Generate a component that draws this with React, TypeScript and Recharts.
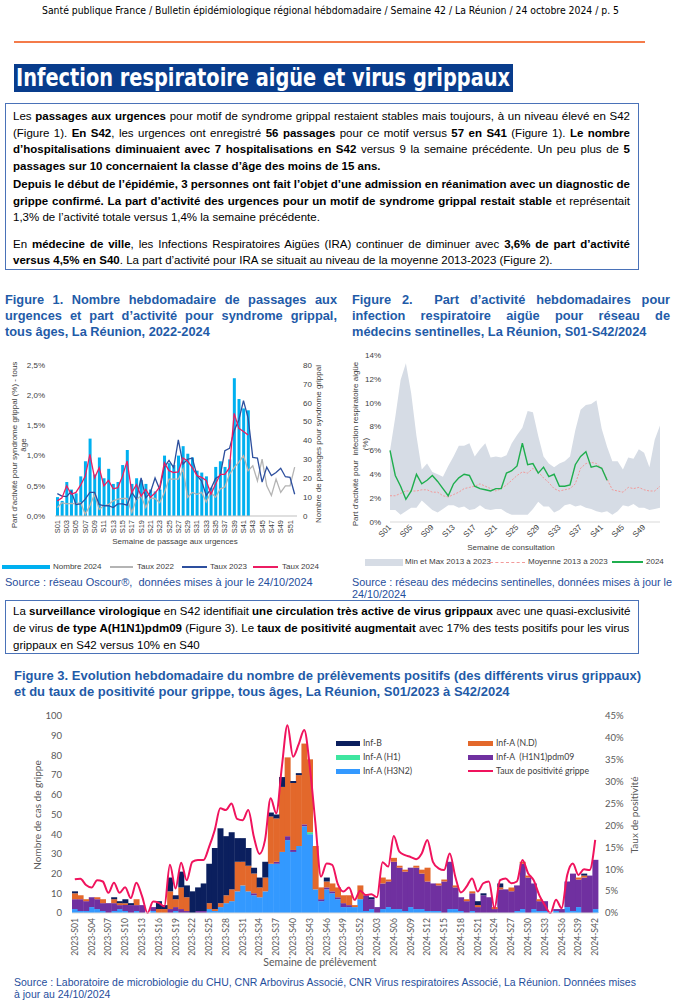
import React from 'react';
import { ComposedChart, Bar, Line, Area, XAxis, YAxis } from 'recharts';

const ARIAL = '"Liberation Sans", Arial, Helvetica, sans-serif';
const NARROW = '"Liberation Sans Narrow", "Arial Narrow", "DejaVu Sans Condensed", "Liberation Sans", sans-serif';
const CALIBRI = 'Lato, "Open Sans", "Noto Sans", sans-serif';
const BLUE_TITLE = '#1f5ba8';
const BLUE_SRC = '#1f4e9c';

// ---- Figure 1 : passages aux urgences (Oscour) ----
const semaines = [
  'S01', 'S02', 'S03', 'S04', 'S05', 'S06', 'S07', 'S08', 'S09', 'S10',
  'S11', 'S12', 'S13', 'S14', 'S15', 'S16', 'S17', 'S18', 'S19', 'S20',
  'S21', 'S22', 'S23', 'S24', 'S25', 'S26', 'S27', 'S28', 'S29', 'S30',
  'S31', 'S32', 'S33', 'S34', 'S35', 'S36', 'S37', 'S38', 'S39', 'S40',
  'S41', 'S42', 'S43', 'S44', 'S45', 'S46', 'S47', 'S48', 'S49', 'S50',
  'S51', 'S52',
];
const nombre2024 = [
  10, 8, 18, 14, 12, 21, 29, 41, 22, 31,
  20, 25, 17, 18, 27, 35, 17, 20, 19, 17,
  14, 13, 14, 32, 28, 27, 32, 37, 33, 31,
  24, 23, 21, 15, 26, 29, 26, 30, 73, 62,
  57, 56,
];
const taux2022 = [
  0.14, 0.22, 0.2, 0.21, 0.2, 0.22, 0.03, 0.17, 0.36, 0.11,
  0.17, 0.19, 0.25, 0.28, 0.29, 0.29, 0.06, 0.28, 0.33, 0.14,
  0.3, 0.29, 0.22, 0.39, 0.61, 0.61, 0.61, 0.78, 0.31, 0.39,
  0.36, 0.39, 0.23, 0.39, 0.31, 0.45, 0.48, 0.69, 0.8, 0.89,
  1.0, 0.75, 0.83, 0.58, 0.94, 0.5, 0.34, 0.61, 0.39, 0.5,
  0.5, 0.81,
];
const taux2023 = [
  0.37, 0.33, 0.32, 0.41, 0.19, 0.2, 0.28, 0.39, 0.39, 0.19,
  0.17, 0.17, 0.14, 0.2, 0.2, 0.18, 0.39, 0.28, 0.63, 0.3,
  0.39, 0.63, 0.44, 0.81, 0.92, 0.8, 1.26, 0.86, 0.94, 0.96,
  0.67, 0.58, 0.34, 0.45, 0.62, 0.67, 1.08, 1.12, 1.41, 1.59,
  1.91, 1.62, 0.97, 0.96, 0.56, 0.81, 0.67, 0.72, 0.79, 0.65,
  0.64, 0.36,
];
const taux2024 = [
  0.25, 0.3, 0.5, 0.36, 0.39, 0.51, 0.66, 1.02, 0.63, 0.8,
  0.5, 0.59, 0.45, 0.47, 0.66, 0.91, 0.39, 0.52, 0.33, 0.44,
  0.31, 0.38, 0.48, 0.88, 0.75, 0.72, 0.73, 0.96, 0.91, 0.8,
  0.67, 0.64, 0.59, 0.36, 0.53, 0.69, 0.69, 0.8, 1.7, 1.45,
  1.4, 1.34,
];
const ticksPart = [0, 0.5, 1, 1.5, 2, 2.5];
const ticksNombre = [0, 10, 20, 30, 40, 50, 60, 70, 80];

// ---- Figure 2 : IRA, médecins sentinelles ----
const iraMax = [
  6.0, 8.8, 11.9, 13.3, 10.8, 7.2, 4.4, 4.9, 4.2, 4.0,
  3.8, 4.7, 5.5, 6.4, 6.4, 6.6, 5.5, 6.1, 6.6, 5.4,
  5.5, 5.4, 5.6, 6.6, 7.3, 7.9, 9.3, 9.2, 7.2, 5.5,
  4.9, 4.6, 4.9, 5.1, 5.5, 7.7, 9.4, 9.8, 9.9, 10.2,
  7.8, 6.3, 5.1, 5.1, 4.4, 5.4, 5.3, 6.1, 5.8, 4.6,
  6.9, 8.1,
];
const iraMin = [
  1.0, 1.0, 0.6, 0.9, 1.2, 1.2, 1.8, 1.4, 1.0, 0.8,
  1.1, 1.4, 1.4, 1.2, 1.3, 1.0, 1.1, 1.4, 1.1, 1.0,
  1.1, 1.1, 0.8, 0.6, 0.6, 0.6, 0.6, 1.1, 1.7, 1.3,
  1.3, 0.8, 1.0, 1.4, 1.5, 1.3, 1.4, 1.2, 1.1, 0.9,
  0.8, 0.9, 0.6, 0.9, 1.4, 1.3, 1.5, 1.2, 1.2, 1.0,
  1.1, 1.2,
];
const iraMoyenne = [
  2.2, 2.2, 2.4, 2.6, 2.6, 2.6, 2.7, 2.7, 2.5, 2.5,
  2.2, 2.1, 2.3, 2.5, 2.8, 2.9, 3.0, 3.2, 3.0, 2.8,
  2.6, 2.8, 3.1, 3.5, 3.9, 4.2, 4.1, 4.5, 4.2, 3.7,
  3.3, 2.8, 2.6, 2.7, 2.8, 3.2, 4.5, 4.9, 5.0, 4.9,
  4.5, 3.6, 2.7, 2.6, 2.5, 2.9, 2.8, 2.9, 2.7, 2.6,
  2.6, 3.0,
];
const ira2024 = [
  6.0, 3.9, 3.0, 1.9, 2.6, 4.0, 3.2, 3.5, 3.9, 3.4,
  2.8, 2.2, 3.2, 3.7, 4.0, 3.9, 3.0, 2.8, 2.7, 2.6,
  2.8, 2.8, 4.1, 4.3, 4.7, 6.6, 4.8, 4.9, 4.1, 4.6,
  3.8, 4.0, 3.0, 3.0, 3.1, 4.8, 5.5, 5.9, 4.6, 4.7,
  4.5, 3.5,
];
const ticksIra = [0, 2, 4, 6, 8, 10, 12, 14];

// ---- Figure 3 : prélèvements positifs grippe ----
const semainesPrel = [
  '2023-S01', '2023-S02', '2023-S03', '2023-S04', '2023-S05', '2023-S06', '2023-S07', '2023-S08', '2023-S09', '2023-S10',
  '2023-S11', '2023-S12', '2023-S13', '2023-S14', '2023-S15', '2023-S16', '2023-S17', '2023-S18', '2023-S19', '2023-S20',
  '2023-S21', '2023-S22', '2023-S23', '2023-S24', '2023-S25', '2023-S26', '2023-S27', '2023-S28', '2023-S29', '2023-S30',
  '2023-S31', '2023-S32', '2023-S33', '2023-S34', '2023-S35', '2023-S36', '2023-S37', '2023-S38', '2023-S39', '2023-S40',
  '2023-S41', '2023-S42', '2023-S43', '2023-S44', '2023-S45', '2023-S46', '2023-S47', '2023-S48', '2023-S49', '2023-S50',
  '2023-S51', '2023-S52',
  '2024-S01', '2024-S02', '2024-S03', '2024-S04', '2024-S05', '2024-S06', '2024-S07', '2024-S08', '2024-S09', '2024-S10',
  '2024-S11', '2024-S12', '2024-S13', '2024-S14', '2024-S15', '2024-S16', '2024-S17', '2024-S18', '2024-S19', '2024-S20',
  '2024-S21', '2024-S22', '2024-S23', '2024-S24', '2024-S25', '2024-S26', '2024-S27', '2024-S28', '2024-S29', '2024-S30',
  '2024-S31', '2024-S32', '2024-S33', '2024-S34', '2024-S35', '2024-S36', '2024-S37', '2024-S38', '2024-S39', '2024-S40',
  '2024-S41', '2024-S42',
];
const infH3N2 = [
  2, 1, 1, 3, 2, 1, 0, 1, 2, 1, 0, 1, 0, 0, 1, 0, 0, 0, 1, 0,
  0, 0, 0, 0, 2, 1, 3, 5, 6, 11, 14, 11, 9, 8, 11, 25, 25, 31, 37, 31,
  34, 44, 40, 12, 6, 12, 10, 7, 3, 3, 3, 7,
  1, 2, 0, 2, 3, 2, 2, 1, 3, 2, 2, 1, 1, 1, 0, 2, 2, 1, 0, 1,
  0, 0, 0, 0, 0, 0, 0, 1, 2, 0, 2, 1, 1, 0, 1, 0, 3, 1, 3, 0,
  0, 2,
];
const infH1 = [
  0, 0, 0, 0, 0, 0, 0, 0, 0, 0, 0, 0, 0, 0, 0, 0, 0, 0, 0, 0,
  0, 0, 0, 0, 0, 0, 0, 0, 0, 0, 0, 0, 0, 0, 0, 0, 0, 0, 0, 0,
  0, 0, 1, 0, 0, 0, 0, 0, 0, 0, 0, 0,
  0, 0, 0, 0, 0, 0, 0, 0, 0, 0, 0, 0, 0, 0, 0, 0, 0, 0, 0, 0,
  0, 0, 0, 0, 0, 0, 0, 0, 0, 0, 0, 0, 0, 0, 0, 0, 0, 0, 0, 0,
  0, 0,
];
const infH1N1 = [
  5, 6, 5, 5, 5, 4, 5, 4, 2, 3, 4, 3, 4, 0, 2, 0, 0, 2, 2, 2,
  1, 0, 1, 1, 0, 0, 0, 0, 0, 0, 0, 0, 1, 0, 0, 0, 1, 0, 2, 1,
  0, 1, 0, 0, 1, 1, 1, 1, 2, 1, 0, 0,
  8, 5, 3, 13, 13, 24, 21, 20, 20, 21, 18, 15, 14, 13, 16, 24, 11, 7, 6, 9,
  3, 9, 8, 2, 12, 12, 11, 13, 23, 18, 13, 5, 5, 0, 1, 2, 13, 19, 14, 18,
  19, 25,
];
const infND = [
  3, 2, 1, 0, 1, 2, 0, 2, 1, 1, 0, 3, 0, 0, 0, 2, 2, 9, 4, 11,
  7, 0, 0, 0, 3, 1, 2, 4, 6, 15, 12, 13, 10, 5, 7, 24, 22, 33, 40, 34,
  36, 41, 37, 22, 6, 3, 4, 5, 4, 5, 1, 7,
  0, 0, 0, 3, 1, 2, 1, 1, 0, 1, 2, 7, 0, 1, 1, 0, 1, 0, 1, 1,
  1, 0, 0, 1, 1, 0, 2, 0, 1, 1, 0, 1, 0, 0, 0, 0, 0, 0, 1, 1,
  0, 0,
];
const infB = [
  1, 0, 0, 0, 0, 0, 0, 1, 1, 2, 1, 0, 0, 0, 0, 4, 2, 7, 2, 8,
  6, 11, 12, 14, 20, 31, 38, 30, 29, 12, 12, 9, 3, 5, 8, 2, 2, 5, 0, 1,
  1, 0, 0, 0, 0, 2, 0, 0, 0, 0, 0, 0,
  0, 1, 0, 0, 0, 0, 0, 0, 0, 0, 0, 0, 0, 0, 0, 0, 0, 0, 0, 0,
  2, 1, 0, 0, 2, 0, 0, 0, 0, 0, 0, 0, 0, 0, 0, 0, 0, 0, 0, 1,
  0, 0,
];
const tauxPositivite = [
  7.7, 7.8, 6.4, 5.8, 7.5, 7.2, 4.6, 6.9, 4.6, 5.9, 3.4, 6.9, 3.9, 0, 2.6, 2.3, 1.5, 11.0, 5.6, 11.5,
  7.5, 11.7, 12.1, 12.1, 15.1, 18.9, 23.9, 23.5, 25.0, 21.5, 21.2, 23.5, 17.4, 13.5, 16.7, 26.2, 22.8, 33.4, 42.9, 35.7,
  38.5, 41.8, 33.4, 20.5, 8.3, 11.3, 11.0, 6.6, 4.9, 5.8, 3.0, 5.1,
  4.1, 4.3, 3.6, 11.6, 10.6, 17.6, 14.0, 13.2, 12.8, 12.3, 13.6, 16.7, 11.7, 10.2, 9.8, 13.6, 8.3, 4.7, 6.0, 7.9,
  4.9, 6.8, 7.2, 1.1, 7.5, 7.9, 6.8, 7.2, 12.1, 9.1, 7.5, 4.1, 1.8, 0, 3.0, 1.1, 8.7, 11.3, 8.7, 10.0,
  9.8, 16.7,
];
const ticksCas = [0, 10, 20, 30, 40, 50, 60, 70, 80, 90, 100];
const ticksTaux = [0, 5, 10, 15, 20, 25, 30, 35, 40, 45];

const fig1Data = semaines.map((s, i) => ({
  s,
  nombre: nombre2024[i] ?? null,
  t22: taux2022[i],
  t23: taux2023[i],
  t24: taux2024[i] ?? null,
}));

const fig2Data = semaines.map((s, i) => ({
  s,
  range: [iraMin[i], iraMax[i]],
  moy: iraMoyenne[i],
  v24: ira2024[i] ?? null,
}));

const fig3Data = semainesPrel.map((s, i) => ({
  s,
  h3n2: infH3N2[i],
  h1: infH1[i],
  h1n1: infH1N1[i],
  nd: infND[i],
  b: infB[i],
  taux: tauxPositivite[i],
}));

const vTick = (size: number, color: string, family: string) => (p: any) => (
  <text
    x={p.x}
    y={p.y}
    transform={`rotate(-90 ${p.x} ${p.y})`}
    textAnchor="end"
    dominantBaseline="central"
    fontSize={size}
    fill={color}
    fontFamily={family}
  >
    {p.payload.value}
  </text>
);

const diagTick = (p: any) => (
  <text
    x={p.x}
    y={p.y}
    transform={`rotate(-45 ${p.x} ${p.y})`}
    textAnchor="end"
    dominantBaseline="central"
    fontSize={8}
    fill="#404040"
    fontFamily={ARIAL}
  >
    {p.payload.value}
  </text>
);

const J = ({ children, last = false }: any) => (
  <div style={{ textAlign: 'justify', textAlignLast: last ? 'left' : 'justify' }}>{children}</div>
);

const Abs = ({ x, y, style, children }: any) => (
  <div style={{ position: 'absolute', left: x, top: y, whiteSpace: 'nowrap', ...style }}>{children}</div>
);

const Rot = ({ x, y, size, family, color, lh, children }: any) => (
  <div
    style={{
      position: 'absolute',
      left: x,
      top: y,
      transform: 'translate(-50%, -50%) rotate(-90deg)',
      whiteSpace: 'nowrap',
      textAlign: 'center',
      fontSize: size,
      fontFamily: family,
      color,
      lineHeight: `${lh}px`,
    }}
  >
    {children}
  </div>
);

const Center = ({ x, y, size, family, color, children }: any) => (
  <div
    style={{
      position: 'absolute',
      left: x - 200,
      top: y - size * 0.6,
      width: 400,
      textAlign: 'center',
      fontSize: size,
      fontFamily: family,
      color,
      lineHeight: `${size * 1.2}px`,
      whiteSpace: 'nowrap',
    }}
  >
    {children}
  </div>
);

const Swatch = ({ x, y, w, h, color, dashed = false }: any) => (
  <div
    style={{
      position: 'absolute',
      left: x,
      top: y - h / 2,
      width: w,
      height: dashed ? 0 : h,
      background: dashed ? 'none' : color,
      borderTop: dashed ? `${h}px dashed ${color}` : 'none',
    }}
  />
);

export default function App() {
  const tick8 = { fontSize: 8, fill: '#404040', fontFamily: ARIAL };
  const tick3 = { fontSize: 9.5, fill: '#595959', fontFamily: CALIBRI };
  const legend3 = { fontSize: 8.7, fontFamily: CALIBRI, color: '#404040', lineHeight: '12px' };
  const legend12 = { fontSize: 8, color: '#404040', lineHeight: '10px' };
  return (
    <div
      style={{
        position: 'absolute',
        left: 0,
        top: 0,
        width: 682,
        height: 1000,
        background: '#fff',
        fontFamily: ARIAL,
        color: '#000',
        overflow: 'hidden',
      }}
    >
      <svg width={682} height={100} style={{ position: 'absolute', left: 0, top: 0 }}>
        <text x={42} y={13.5} fontSize={10.5} fontFamily={NARROW} textLength={577} lengthAdjust="spacingAndGlyphs" fill="#000">
          Santé publique France / Bulletin épidémiologique régional hébdomadaire / Semaine 42 / La Réunion / 24 octobre 2024 / p. 5
        </text>
        <line x1={14} x2={645} y1={42} y2={42} stroke="#f47b4a" strokeWidth={2} />
        <rect x={14} y={64} width={499} height={28} fill="#083c8c" />
        <text x={16} y={86} fontSize={25} fontWeight="bold" fontFamily={NARROW} fill="#fff" textLength={494} lengthAdjust="spacingAndGlyphs">
          Infection respiratoire aigüe et virus grippaux
        </text>
      </svg>

      {/* encadré 1 */}
      <div
        style={{
          position: 'absolute',
          left: 5,
          top: 103,
          width: 634,
          height: 167,
          border: '1px solid #4a72b8',
          boxSizing: 'border-box',
          padding: '4px 8px 0 7px',
          fontSize: 11.5,
          lineHeight: '16.5px',
        }}
      >
        <J>Les <b>passages aux urgences</b> pour motif de syndrome grippal restaient stables mais toujours, à un niveau élevé en S42</J>
        <J>(Figure 1). <b>En S42</b>, les urgences ont enregistré <b>56 passages</b> pour ce motif versus <b>57 en S41</b> (Figure 1). <b>Le nombre</b></J>
        <J><b>d’hospitalisations diminuaient avec 7 hospitalisations en S42</b> versus 9 la semaine précédente. Un peu plus de <b>5</b></J>
        <J last><b>passages sur 10 concernaient la classe d’âge des moins de 15 ans.</b></J>
        <div style={{ height: 2 }} />
        <J><b>Depuis le début de l’épidémie, 3 personnes ont fait l’objet d’une admission en réanimation avec un diagnostic de</b></J>
        <J><b>grippe confirmé. La part d’activité des urgences pour un motif de syndrome grippal restait stable</b> et représentait</J>
        <J last>1,3% de l’activité totale versus 1,4% la semaine précédente.</J>
        <div style={{ height: 10 }} />
        <J>En <b>médecine de ville</b>, les Infections Respiratoires Aigües (IRA) continuer de diminuer avec <b>3,6% de part d’activité</b></J>
        <J last><b>versus 4,5% en S40</b>. La part d’activité pour IRA se situait au niveau de la moyenne 2013-2023 (Figure 2).</J>
      </div>

      {/* titres figures 1 et 2 */}
      <div style={{ position: 'absolute', left: 5, top: 292, width: 332, fontSize: 12.8, lineHeight: '16px', fontWeight: 'bold', color: BLUE_TITLE }}>
        <J>Figure 1. Nombre hebdomadaire de passages aux</J>
        <J>urgences et part d’activité pour syndrome grippal,</J>
        <J last>tous âges, La Réunion, 2022-2024</J>
      </div>
      <div style={{ position: 'absolute', left: 352, top: 292, width: 318, fontSize: 12.8, lineHeight: '16px', fontWeight: 'bold', color: BLUE_TITLE }}>
        <J>Figure 2.&nbsp; Part d’activité hebdomadaires pour</J>
        <J>infection respiratoire aigüe pour réseau de</J>
        <J last>médecins sentinelles, La Réunion, S01-S42/2024</J>
      </div>

      {/* Figure 1 */}
      <div style={{ position: 'absolute', left: 0, top: 355 }}>
        <ComposedChart width={340} height={200} data={fig1Data} margin={{ top: 10, right: 0, bottom: 0, left: 0 }}>
          <XAxis
            dataKey="s"
            interval={1}
            height={39}
            tickLine={false}
            tickSize={0}
            tickMargin={4}
            axisLine={{ stroke: '#bfbfbf' }}
            tick={vTick(7.5, '#404040', ARIAL)}
          />
          <YAxis
            yAxisId="l"
            domain={[0, 2.5]}
            ticks={ticksPart}
            width={55}
            axisLine={false}
            tickLine={false}
            tickSize={0}
            tickMargin={10}
            tickFormatter={(v: number) => v.toFixed(1).replace('.', ',') + '%'}
            tick={tick8}
          />
          <YAxis
            yAxisId="r"
            orientation="right"
            domain={[0, 80]}
            ticks={ticksNombre}
            width={43}
            axisLine={false}
            tickLine={false}
            tickSize={0}
            tickMargin={6}
            tick={tick8}
          />
          <Bar yAxisId="r" dataKey="nombre" fill="#00b0f0" barSize={3} isAnimationActive={false} />
          <Line yAxisId="l" dataKey="t22" stroke="#b4b4b4" strokeWidth={1.3} dot={false} isAnimationActive={false} />
          <Line yAxisId="l" dataKey="t23" stroke="#2d4f9e" strokeWidth={1.3} dot={false} isAnimationActive={false} />
          <Line yAxisId="l" dataKey="t24" stroke="#ec1c62" strokeWidth={1.3} dot={false} isAnimationActive={false} />
        </ComposedChart>
      </div>
      <Rot x={19} y={445} size={8} family={ARIAL} color="#404040" lh={9}>
        Part d’activité pour syndrome grippal (%) - tous<br />âge
      </Rot>
      <Rot x={318} y={444} size={8} family={ARIAL} color="#404040" lh={9}>
        Nombre de passages pour syndrome grippal
      </Rot>
      <Center x={175} y={542} size={8} family={ARIAL} color="#404040">Semaine de passage aux urgences</Center>
      <Swatch x={2} y={567} w={48} h={4} color="#00b0f0" />
      <Abs x={53} y={562} style={legend12}>Nombre 2024</Abs>
      <Swatch x={110} y={567} w={23} h={1.5} color="#b4b4b4" />
      <Abs x={137} y={562} style={legend12}>Taux 2022</Abs>
      <Swatch x={182} y={567} w={25} h={1.5} color="#2d4f9e" />
      <Abs x={210} y={562} style={legend12}>Taux 2023</Abs>
      <Swatch x={253} y={567} w={25} h={1.5} color="#ec1c62" />
      <Abs x={282} y={562} style={legend12}>Taux 2024</Abs>

      {/* Figure 2 */}
      <div style={{ position: 'absolute', left: 340, top: 345 }}>
        <ComposedChart width={342} height={200} data={fig2Data} margin={{ top: 10, right: 22, bottom: 0, left: 0 }}>
          <XAxis
            dataKey="s"
            scale="point"
            interval={3}
            height={23}
            tickLine={false}
            tickSize={0}
            tickMargin={4}
            axisLine={{ stroke: '#d9d9d9' }}
            tick={diagTick}
          />
          <YAxis
            domain={[0, 14]}
            ticks={ticksIra}
            width={50}
            axisLine={false}
            tickLine={false}
            tickSize={0}
            tickMargin={9}
            tickFormatter={(v: number) => v + '%'}
            tick={tick8}
          />
          <Area dataKey="range" fill="#d6dce5" fillOpacity={1} stroke="none" isAnimationActive={false} />
          <Line dataKey="moy" stroke="#f29a9a" strokeWidth={1} strokeDasharray="2 1.5" dot={false} isAnimationActive={false} />
          <Line dataKey="v24" stroke="#1fae4e" strokeWidth={1.4} dot={false} isAnimationActive={false} />
        </ComposedChart>
      </div>
      <Rot x={360} y={444} size={8} family={ARIAL} color="#404040" lh={9.5}>
        Part d’activité pour&nbsp; infection respiratoire aigüe<br />(%)
      </Rot>
      <Center x={511} y={548} size={8} family={ARIAL} color="#404040">Semaine de consultation</Center>
      <Swatch x={365} y={562} w={38} h={7} color="#d6dce5" />
      <Abs x={405} y={557} style={legend12}>Min et Max 2013 à 2023</Abs>
      <Swatch x={490} y={562} w={35} h={1} color="#f29a9a" dashed />
      <Abs x={528} y={557} style={legend12}>Moyenne 2013 à 2023</Abs>
      <Swatch x={612} y={562} w={31} h={1.5} color="#1fae4e" />
      <Abs x={646} y={557} style={legend12}>2024</Abs>

      {/* sources 1 et 2 */}
      <Abs x={5} y={576} style={{ fontSize: 11, color: BLUE_SRC, lineHeight: '12px' }}>
        Source : réseau Oscour®,&nbsp; données mises à jour le 24/10/2024
      </Abs>
      <Abs x={352} y={576} style={{ fontSize: 10.8, color: BLUE_SRC, lineHeight: '12px' }}>
        Source : réseau des médecins sentinelles, données mises à jour le<br />24/10/2024
      </Abs>

      {/* encadré 2 */}
      <div
        style={{
          position: 'absolute',
          left: 5,
          top: 600,
          width: 634,
          height: 54,
          border: '1px solid #4a72b8',
          boxSizing: 'border-box',
          padding: '1.5px 8px 0 7px',
          fontSize: 11.5,
          lineHeight: '17px',
          whiteSpace: 'nowrap',
        }}
      >
        <div>La <b>surveillance virologique</b> en S42 identifiait <b>une circulation très active de virus grippaux</b> avec une quasi-exclusivité</div>
        <div>de virus <b>de type A(H1N1)pdm09</b> (Figure 3). Le <b>taux de positivité augmentait</b> avec 17% des tests positifs pour les virus</div>
        <div>grippaux en S42 versus 10% en S40</div>
      </div>

      {/* titre figure 3 */}
      <div style={{ position: 'absolute', left: 14, top: 668, fontSize: 13, lineHeight: '16px', fontWeight: 'bold', color: BLUE_TITLE, whiteSpace: 'nowrap' }}>
        <div>Figure 3. Evolution hebdomadaire du nombre de prélèvements positifs (des différents virus grippaux)</div>
        <div>et du taux de positivité pour grippe, tous âges, La Réunion, S01/2023 à S42/2024</div>
      </div>

      {/* Figure 3 */}
      <div style={{ position: 'absolute', left: 0, top: 700 }}>
        <ComposedChart width={682} height={270} data={fig3Data} barCategoryGap={0} margin={{ top: 16, right: 0, bottom: 0, left: 0 }}>
          <XAxis
            dataKey="s"
            interval={2}
            height={57}
            tickLine={false}
            tickSize={0}
            tickMargin={5}
            axisLine={{ stroke: '#d9d9d9' }}
            tick={vTick(8.6, '#595959', CALIBRI)}
          />
          <YAxis
            yAxisId="l"
            domain={[0, 100]}
            ticks={ticksCas}
            width={72}
            axisLine={false}
            tickLine={false}
            tickSize={0}
            tickMargin={10}
            tick={tick3}
          />
          <YAxis
            yAxisId="r"
            orientation="right"
            domain={[0, 45]}
            ticks={ticksTaux}
            width={84}
            axisLine={false}
            tickLine={false}
            tickSize={0}
            tickMargin={7}
            tickFormatter={(v: number) => v + '%'}
            tick={tick3}
          />
          <Bar yAxisId="l" stackId="g" dataKey="h3n2" fill="#3399ff" isAnimationActive={false} />
          <Bar yAxisId="l" stackId="g" dataKey="h1" fill="#3ee6a0" isAnimationActive={false} />
          <Bar yAxisId="l" stackId="g" dataKey="h1n1" fill="#7030a0" isAnimationActive={false} />
          <Bar yAxisId="l" stackId="g" dataKey="nd" fill="#e3682b" isAnimationActive={false} />
          <Bar yAxisId="l" stackId="g" dataKey="b" fill="#0b1f5e" isAnimationActive={false} />
          <Line yAxisId="r" type="monotone" dataKey="taux" stroke="#f0135d" strokeWidth={2} dot={false} isAnimationActive={false} />
        </ComposedChart>
      </div>
      <Rot x={37} y={815} size={10} family={CALIBRI} color="#595959" lh={12}>Nombre de cas de grippe</Rot>
      <Rot x={634} y={815} size={10} family={CALIBRI} color="#595959" lh={12}>Taux de positivité</Rot>
      <Center x={320} y={962} size={10.5} family={CALIBRI} color="#595959">Semaine de prélèvement</Center>

      {/* légende figure 3 */}
      <Swatch x={336} y={743} w={24} h={5} color="#0b1f5e" />
      <Abs x={363} y={737} style={legend3}>Inf-B</Abs>
      <Swatch x={336} y={757} w={24} h={5} color="#3ee6a0" />
      <Abs x={363} y={751} style={legend3}>Inf-A (H1)</Abs>
      <Swatch x={336} y={771} w={24} h={5} color="#3399ff" />
      <Abs x={363} y={765} style={legend3}>Inf-A (H3N2)</Abs>
      <Swatch x={468} y={743} w={25} h={5} color="#e3682b" />
      <Abs x={496} y={737} style={legend3}>Inf-A (N.D)</Abs>
      <Swatch x={468} y={757} w={25} h={5} color="#7030a0" />
      <Abs x={496} y={751} style={legend3}>Inf-A&nbsp; (H1N1)pdm09</Abs>
      <Swatch x={468} y={771} w={25} h={2} color="#f0135d" />
      <Abs x={496} y={765} style={legend3}>Taux de positivité grippe</Abs>

      {/* source figure 3 */}
      <Abs x={14} y={976} style={{ fontSize: 10.5, color: BLUE_SRC, lineHeight: '12px' }}>
        Source : Laboratoire de microbiologie du CHU, CNR Arbovirus Associé, CNR Virus respiratoires Associé, La Réunion. Données mises
        <br />à jour au 24/10/2024
      </Abs>
    </div>
  );
}
